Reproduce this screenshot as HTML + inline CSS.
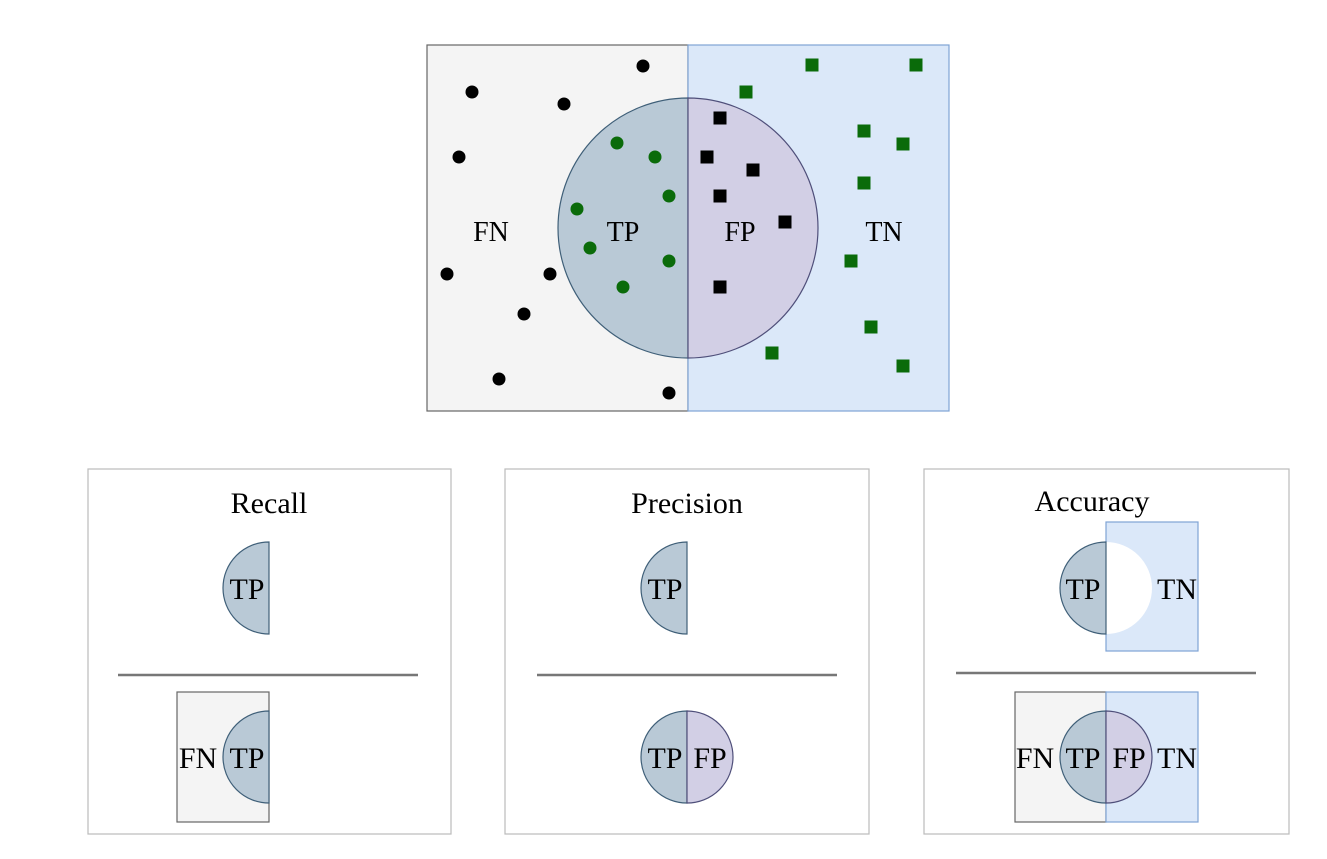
<!DOCTYPE html>
<html><head><meta charset="utf-8"><style>
html,body{margin:0;padding:0;background:#fff;}
svg{display:block;font-family:"Liberation Serif",serif;}
</style></head><body>
<svg id="chart" width="1327" height="859" viewBox="0 0 1327 859">
<g id="main">
  <rect x="427" y="45" width="261" height="366" fill="#f4f4f4" stroke="#666" stroke-width="1.2"/>
  <rect x="688" y="45" width="261" height="366" fill="#dbe8f9" stroke="#7fa4d4" stroke-width="1.2"/>
  <path d="M688,98 A130,130 0 0 0 688,358 Z" fill="#b9c9d6" stroke="#3f5f78" stroke-width="1.2"/>
  <path d="M688,98 A130,130 0 0 1 688,358 Z" fill="#d2cfe5" stroke="#4f4f7a" stroke-width="1.2"/>
  <text x="491" y="241" font-size="28" text-anchor="middle">FN</text>
  <text x="623" y="241" font-size="28" text-anchor="middle">TP</text>
  <text x="740" y="241" font-size="28" text-anchor="middle">FP</text>
  <text x="884" y="241" font-size="28" text-anchor="middle">TN</text>
  <g id="pts"></g>
</g>

<g>
  <rect x="88" y="469" width="363" height="365" fill="#fff" stroke="#bbb" stroke-width="1.2"/>
  <text x="269" y="513" font-size="30" text-anchor="middle">Recall</text>
  <path d="M269,542 A46,46 0 0 0 269,634 Z" fill="#b9c9d6" stroke="#3f5f78" stroke-width="1.2"/>
  <text x="247" y="599" font-size="30" text-anchor="middle">TP</text>
  <line x1="118" y1="675" x2="418" y2="675" stroke="#777" stroke-width="2.5"/>
  <rect x="177" y="692" width="92" height="130" fill="#f4f4f4" stroke="#666" stroke-width="1.2"/>
  <path d="M269,711 A46,46 0 0 0 269,803 Z" fill="#b9c9d6" stroke="#3f5f78" stroke-width="1.2"/>
  <text x="198" y="768" font-size="30" text-anchor="middle">FN</text>
  <text x="247" y="768" font-size="30" text-anchor="middle">TP</text>
</g>

<g>
  <rect x="505" y="469" width="364" height="365" fill="#fff" stroke="#bbb" stroke-width="1.2"/>
  <text x="687" y="513" font-size="30" text-anchor="middle">Precision</text>
  <path d="M687,542 A46,46 0 0 0 687,634 Z" fill="#b9c9d6" stroke="#3f5f78" stroke-width="1.2"/>
  <text x="665" y="599" font-size="30" text-anchor="middle">TP</text>
  <line x1="537" y1="675" x2="837" y2="675" stroke="#777" stroke-width="2.5"/>
  <path d="M687,711 A46,46 0 0 0 687,803 Z" fill="#b9c9d6" stroke="#3f5f78" stroke-width="1.2"/>
  <path d="M687,711 A46,46 0 0 1 687,803 Z" fill="#d2cfe5" stroke="#4f4f7a" stroke-width="1.2"/>
  <text x="665" y="768" font-size="30" text-anchor="middle">TP</text>
  <text x="710" y="768" font-size="30" text-anchor="middle">FP</text>
</g>

<g>
  <rect x="924" y="469" width="365" height="365" fill="#fff" stroke="#bbb" stroke-width="1.2"/>
  <text x="1092" y="511" font-size="30" text-anchor="middle">Accuracy</text>
  <rect x="1106" y="522" width="92" height="129" fill="#dbe8f9" stroke="#7fa4d4" stroke-width="1.2"/>
  <path d="M1106,542 A46,46 0 0 1 1106,634 Z" fill="#fff"/>
  <path d="M1106,542 A46,46 0 0 0 1106,634 Z" fill="#b9c9d6" stroke="#3f5f78" stroke-width="1.2"/>
  <text x="1083" y="599" font-size="30" text-anchor="middle">TP</text>
  <text x="1177" y="599" font-size="30" text-anchor="middle">TN</text>
  <line x1="956" y1="673" x2="1256" y2="673" stroke="#777" stroke-width="2.5"/>
  <rect x="1015" y="692" width="91" height="130" fill="#f4f4f4" stroke="#666" stroke-width="1.2"/>
  <rect x="1106" y="692" width="92" height="130" fill="#dbe8f9" stroke="#7fa4d4" stroke-width="1.2"/>
  <path d="M1106,711 A46,46 0 0 0 1106,803 Z" fill="#b9c9d6" stroke="#3f5f78" stroke-width="1.2"/>
  <path d="M1106,711 A46,46 0 0 1 1106,803 Z" fill="#d2cfe5" stroke="#4f4f7a" stroke-width="1.2"/>
  <text x="1035" y="768" font-size="30" text-anchor="middle">FN</text>
  <text x="1083" y="768" font-size="30" text-anchor="middle">TP</text>
  <text x="1129" y="768" font-size="30" text-anchor="middle">FP</text>
  <text x="1177" y="768" font-size="30" text-anchor="middle">TN</text>
</g>
</svg>
<script>
const fnX=[643,472,564,459,447,550,524,499,669];
const fnY=[66,92,104,157,274,274,314,379,393];
const tpX=[617,655,669,577,590,669,623];
const tpY=[143,157,196,209,248,261,287];
const fpX=[720,707,753,720,785,720];
const fpY=[118,157,170,196,222,287];
const tnX=[812,916,746,864,903,864,851,871,772,903];
const tnY=[65,65,92,131,144,183,261,327,353,366];
const NS="http://www.w3.org/2000/svg";
const g=document.getElementById('pts');
function circ(x,y,fill,name){
  const c=document.createElementNS(NS,'circle');
  c.setAttribute('cx',x);c.setAttribute('cy',y);c.setAttribute('r',6.5);c.setAttribute('fill',fill);
  
  
  g.appendChild(c);
}
function sq(x,y,fill,name){
  const r=document.createElementNS(NS,'rect');
  r.setAttribute('x',x-6.5);r.setAttribute('y',y-6.5);r.setAttribute('width',13);r.setAttribute('height',13);r.setAttribute('fill',fill);
  
  
  g.appendChild(r);
}
fnX.forEach((x,i)=>circ(x,fnY[i],'#000','fn-point'));
tpX.forEach((x,i)=>circ(x,tpY[i],'#0a6b0a','tp-point'));
fpX.forEach((x,i)=>sq(x,fpY[i],'#000','fp-point'));
tnX.forEach((x,i)=>sq(x,tnY[i],'#0a6b0a','tn-point'));
</script>
</body></html>
